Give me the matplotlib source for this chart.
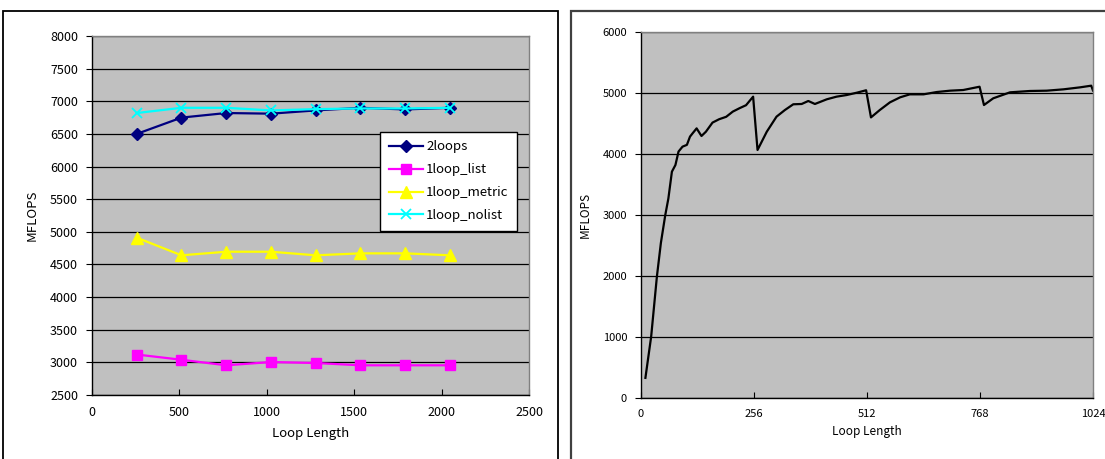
import matplotlib.pyplot as plt
import matplotlib.patches as mpatches

plt.rcParams['font.family'] = ['Noto Sans CJK JP', 'DejaVu Sans']

# --- left chart: MFLOPS per kernel variant ---
loop_len = [256, 512, 768, 1024, 1280, 1536, 1792, 2048]
two_loops = [6500, 6750, 6820, 6810, 6860, 6900, 6875, 6900]
one_loop_list = [3120, 3040, 2955, 3005, 2990, 2955, 2955, 2955]
one_loop_metric = [4910, 4640, 4695, 4695, 4640, 4670, 4670, 4640]
one_loop_nolist = [6820, 6900, 6900, 6860, 6880, 6890, 6890, 6900]

left_xticks = [0, 500, 1000, 1500, 2000, 2500]
left_yticks = [2500, 3000, 3500, 4000, 4500, 5000, 5500, 6000, 6500, 7000, 7500, 8000]

# --- right chart: single sweep over loop length ---
sweep_len = [10, 23, 36, 45, 55, 62, 70, 78, 85, 94, 104, 111, 117, 126, 137,
             147, 162, 177, 193, 208, 223, 238, 254, 264, 285, 307, 326, 345,
             364, 379, 394, 421, 443, 466, 489, 510, 521, 541, 564, 587, 609,
             640, 670, 700, 730, 767, 777, 798, 836, 881, 919, 957, 995, 1020, 1024]
sweep_mflops = [330, 1005, 1990, 2540, 3000, 3270, 3710, 3820, 4040, 4120, 4150,
                4285, 4340, 4420, 4295, 4365, 4515, 4570, 4610, 4695, 4750, 4800,
                4940, 4066, 4366, 4612, 4721, 4815, 4820, 4869, 4820, 4897, 4940,
                4967, 5005, 5045, 4600, 4721, 4847, 4929, 4978, 4978, 5016, 5038,
                5049, 5103, 4803, 4913, 5011, 5033, 5038, 5060, 5093, 5120, 5040]
right_xticks = [0, 256, 512, 768, 1024]
right_yticks = [0, 1000, 2000, 3000, 4000, 5000, 6000]

W, H = 1105, 459
fig = plt.figure(figsize=(W / 100, H / 100), dpi=100, facecolor='white')

# chart frames (Excel style boxes)
fig.patches.append(mpatches.Rectangle((3 / W, -0.05), 555 / W, 1 - 11 / H + 0.05,
                                      transform=fig.transFigure, fill=False,
                                      edgecolor='black', linewidth=1.3))
fig.patches.append(mpatches.Rectangle((571 / W, -0.05), 540 / W, 1 - 11 / H + 0.05,
                                      transform=fig.transFigure, fill=False,
                                      edgecolor='#404040', linewidth=1.6))


def style_axes(ax):
    ax.set_facecolor('#C0C0C0')
    ax.grid(axis='y', color='black', linewidth=0.9)
    ax.set_axisbelow(True)
    for side in ['top', 'right']:
        ax.spines[side].set_color('#808080')
        ax.spines[side].set_linewidth(1.0)
    for side in ['left', 'bottom']:
        ax.spines[side].set_color('black')
        ax.spines[side].set_linewidth(1.0)
    ax.tick_params(axis='x', direction='in', length=4, pad=8, labelsize=9)
    ax.tick_params(axis='y', direction='out', length=4, pad=6, labelsize=9)
    ax.set_xlabel('Loop Length', fontsize=9.5, labelpad=6)
    ax.set_ylabel('MFLOPS', fontsize=9.5, labelpad=8)


ax1 = fig.add_axes([92 / W, 1 - 395 / H, 437 / W, 359 / H])
style_axes(ax1)
ax1.plot(loop_len, two_loops, color='#000080', marker='D', markersize=6, linewidth=1.6, label='2loops')
ax1.plot(loop_len, one_loop_list, color='#FF00FF', marker='s', markersize=7, linewidth=1.6, label='1loop_list')
ax1.plot(loop_len, one_loop_metric, color='#FFFF00', marker='^', markersize=8, linewidth=1.6, label='1loop_metric')
ax1.plot(loop_len, one_loop_nolist, color='#00FFFF', marker='x', markersize=7, markeredgewidth=1.3,
         linewidth=1.6, label='1loop_nolist')
ax1.set_xlim(0, 2500)
ax1.set_ylim(2500, 8000)
ax1.set_xticks(left_xticks)
ax1.set_yticks(left_yticks)
leg = ax1.legend(loc='upper left', bbox_to_anchor=(0.659, 0.733), fontsize=9.5,
                 frameon=True, fancybox=False, framealpha=1, edgecolor='black',
                 handlelength=2.6, labelspacing=0.75, borderpad=0.65, handletextpad=0.25,
                 borderaxespad=0)
leg.get_frame().set_linewidth(1.0)

ax2 = fig.add_axes([641 / W, 1 - 398 / H, 452 / W, 366 / H])
style_axes(ax2)
ax2.plot(sweep_len, sweep_mflops, color='black', linewidth=1.6)
ax2.set_xlim(0, 1024)
ax2.set_ylim(0, 6000)
ax2.set_xticks(right_xticks)
ax2.set_yticks(right_yticks)
ax2.tick_params(labelsize=8)
ax2.set_xlabel('Loop Length', fontsize=8.5, labelpad=4)
ax2.set_ylabel('MFLOPS', fontsize=8.5, labelpad=8)

fig.savefig('out.png', dpi=100, facecolor='white')
